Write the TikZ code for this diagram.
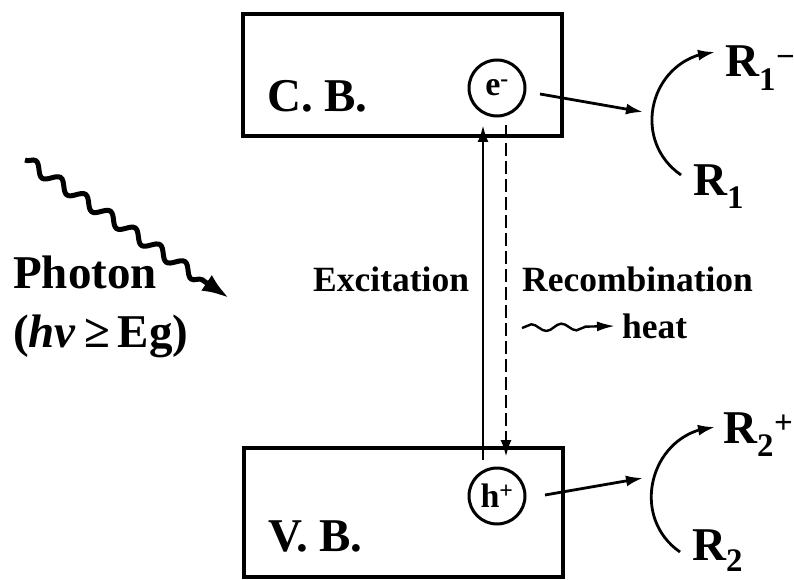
\documentclass[tikz,border=0pt]{standalone}
\usepackage{fontspec}
\setmainfont{Liberation Serif}
\usetikzlibrary{arrows.meta,bending,decorations.pathmorphing}
\begin{document}
\begin{tikzpicture}[x=1pt,y=-1pt,
  band/.style={draw, line width=3.8pt, inner sep=0pt, minimum width=319pt},
  carrier/.style={draw, circle, line width=3pt, minimum size=56pt, inner sep=0pt,
                  font=\fontsize{34}{34}\selectfont\bfseries},
  big/.style={inner sep=0pt, anchor=base west, font=\fontsize{47}{47}\selectfont\bfseries},
  mid/.style={inner sep=0pt, anchor=base west, font=\fontsize{35.5}{35.5}\selectfont\bfseries},
  arr/.style={line width=2.8pt, -{Latex[length=17pt,width=11pt]}},
  bendarr/.style={line width=2.8pt, -{Latex[length=17pt,width=11pt,flex]}},
  photon/.style={line width=5pt, decorate,
     decoration={snake, segment length=30pt, amplitude=5.5pt, post length=24pt},
     -{Latex[length=27pt,width=19pt]}},
  heatwave/.style={line width=2.4pt, decorate,
     decoration={snake, segment length=30pt, amplitude=3.5pt, post length=18pt},
     -{Latex[length=18pt,width=10pt]}},
]
\useasboundingbox (0,0) rectangle (794,580);

% bands
\node[band, minimum height=122pt] (cb) at (402.5,75) {};
\node[band, minimum height=129pt] (vb) at (403.5,512.5) {};
\node[big] (cbl) at (267,112) {C. B.};
\node[big] (vbl) at (268,551) {V. B.};

% carriers
\node[carrier] (e) at (497,88) {e\textsuperscript{-}};
\node[carrier] (h) at (497,496) {h\textsuperscript{+}};

% excitation / recombination
\coordinate (exS) at (483,460);
\coordinate (exE) at (483,125);
\coordinate (reS) at (506,125);
\coordinate (reE) at (506,457);
\draw[arr] (exS) -- (exE);
\draw[arr, dash pattern=on 13pt off 5pt] (reS) -- (reE);
\node[mid] (exl) at (313,291) {Excitation};
\node[mid] (rel) at (522,291) {Recombination};

% heat
\coordinate (ht1) at (522,328);
\coordinate (ht2) at (615,326);
\draw[heatwave] (ht1) -- (ht2);
\node[mid] (heat) at (622,338) {heat};

% photon
\coordinate (ph1) at (25,160);
\coordinate (ph2) at (229,298);
\draw[photon] (ph1) -- (ph2);
\node[big] (phl) at (13,288) {Photon};
\node[big] (hvl) at (13,347) {(\textit{hv}\,≥\,Eg)};

% electron side
\coordinate (eo) at (540,94);
\coordinate (ein) at (643,112);
\draw[arr] (eo) -- (ein);
\coordinate (a1s) at (681,175);
\coordinate (a1e) at (715,52);
\draw[bendarr] (a1s) .. controls (628.6,138.6) and (651.3,56.3) .. (a1e);
\node[big] (r1m) at (725,77) {R\textsubscript{1}\textsuperscript{−}};
\node[big] (r1) at (693,195) {R\textsubscript{1}};

% hole side
\coordinate (ho) at (545,495);
\coordinate (hin) at (643,478);
\draw[arr] (ho) -- (hin);
\coordinate (a2s) at (680,552);
\coordinate (a2e) at (715,427);
\draw[bendarr] (a2s) .. controls (627.6,515.6) and (651.3,431.3) .. (a2e);
\node[big] (r2p) at (723,443) {R\textsubscript{2}\textsuperscript{+}};
\node[big] (r2) at (692,560) {R\raisebox{2pt}{\textsubscript{2}}};
\end{tikzpicture}
\end{document}
